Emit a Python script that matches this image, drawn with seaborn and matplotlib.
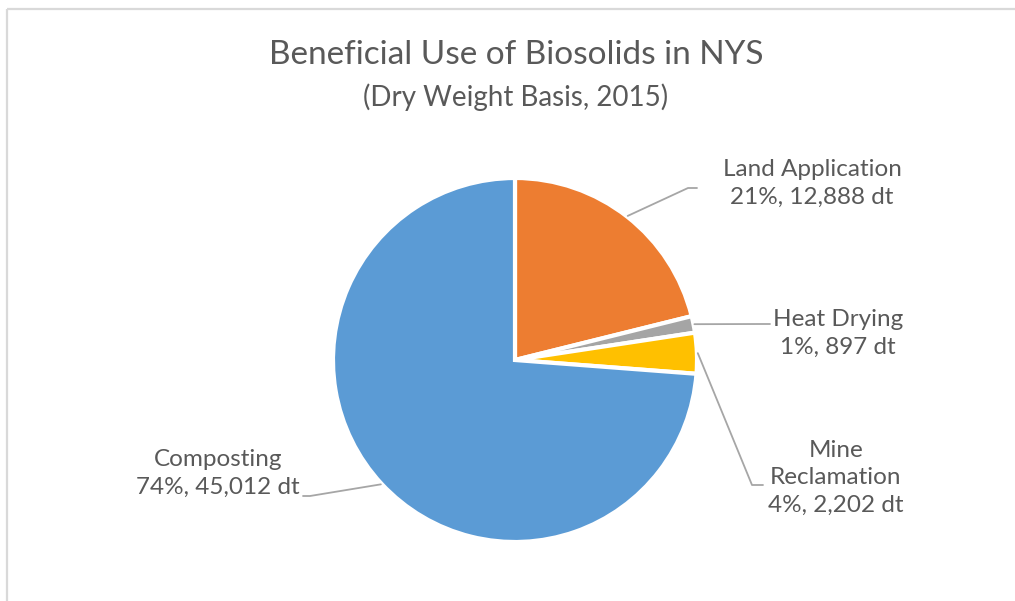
import numpy as np
import matplotlib
matplotlib.use("Agg")
import matplotlib.pyplot as plt
import seaborn as sns

categories = ["Land Application", "Heat Drying", "Mine Reclamation", "Composting"]
tonnes = [12888, 897, 2202, 45012]
percent_labels = ["21%", "1%", "4%", "74%"]
label_names = ["Land Application", "Heat Drying", "Mine\nReclamation", "Composting"]
colors = ["#ED7D31", "#A5A5A5", "#FFC000", "#5B9BD5"]

sns.set_theme(style="white")
plt.rcParams["font.family"] = ["Lato", "DejaVu Sans"]
text_color = "#595959"
line_color = "#A6A6A6"

W, H = 1015, 601
fig = plt.figure(figsize=(W / 100, H / 100), dpi=100)
ax = fig.add_axes([0, 0, 1, 1])

# chart frame (top and left edge visible)
ax.plot([7, W], [8.5, 8.5], color="#D9D9D9", lw=1.6, solid_capstyle="butt")
ax.plot([7, 7], [8.5, H], color="#D9D9D9", lw=1.6, solid_capstyle="butt")

cx, cy, r = 515, 360, 182
# y axis is inverted, so counterclock=True gives a clockwise pie on screen
wedges, _ = ax.pie(tonnes, colors=colors, startangle=-90, counterclock=True,
                   center=(cx, cy), radius=r, explode=[0.016] * 4,
                   wedgeprops=dict(edgecolor="white", linewidth=3),
                   frame=True)
ax.set_xlim(0, W)
ax.set_ylim(H, 0)
ax.set_aspect("equal")
ax.axis("off")

# label text position (center of text block) and leader elbow points
label_pos = [(812, 183), (838, 333), (836, 478), (218, 473)]
elbows = [[(688, 188), (697, 188)],
          [(762, 324), (770, 324)],
          [(752, 485), (763, 485)],
          [(310, 496), (303, 496)]]

for w, name, pct, t, pos, elb in zip(wedges, label_names, percent_labels,
                                     tonnes, label_pos, elbows):
    mid = np.deg2rad((w.theta1 + w.theta2) / 2)
    x0 = w.center[0] + r * 1.005 * np.cos(mid)
    y0 = w.center[1] + r * 1.005 * np.sin(mid)
    xs = [x0] + [p[0] for p in elb]
    ys = [y0] + [p[1] for p in elb]
    ax.plot(xs, ys, color=line_color, lw=1.3)
    ax.text(pos[0], pos[1], f"{name}\n{pct}, {t:,} dt", ha="center", va="center",
            fontsize=17.5, color=text_color, linespacing=1.4)

fig.text(516 / W, 1 - 55 / H, "Beneficial Use of Biosolids in NYS", ha="center",
         va="center", fontsize=24, color=text_color)
fig.text(516 / W, 1 - 97 / H, "(Dry Weight Basis, 2015)", ha="center",
         va="center", fontsize=20, color=text_color)

fig.savefig("out.png", dpi=100, facecolor="white")
